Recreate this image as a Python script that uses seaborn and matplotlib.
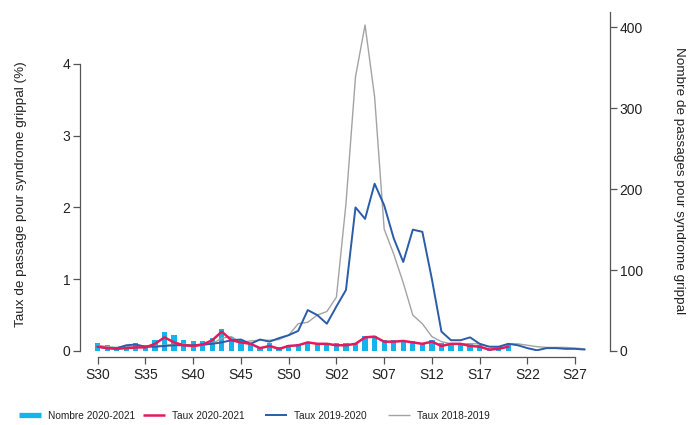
import matplotlib
matplotlib.use("Agg")
import matplotlib.pyplot as plt
from matplotlib.lines import Line2D
import seaborn as sns
import pandas as pd
import numpy as np

# ---- data -------------------------------------------------------------
weeks = [f"S{w:02d}" for w in range(30, 54)] + [f"S{w:02d}" for w in range(1, 30)]
tick_labels = ["S30", "S35", "S40", "S45", "S50", "S02", "S07", "S12", "S17", "S22", "S27"]

nombre_2020_2021 = [10, 7, 5, 7, 10, 7, 14, 24, 20, 13, 12, 12, 16, 27, 17, 14, 10, 5, 10, 5, 7, 9, 10, 10,
                    10, 10, 10, 10, 19, 19, 14, 14, 14, 12, 10, 13, 10, 10, 10, 10, 7, 3, 5, 9]

taux_2020_2021 = [0.06, 0.04, 0.03, 0.04, 0.05, 0.05, 0.10, 0.19, 0.12, 0.08, 0.07, 0.09, 0.15, 0.27, 0.15,
                  0.12, 0.10, 0.04, 0.07, 0.03, 0.07, 0.08, 0.12, 0.10,
                  0.10, 0.08, 0.08, 0.10, 0.19, 0.20, 0.13, 0.13, 0.14, 0.12, 0.10, 0.13, 0.07, 0.10,
                  0.10, 0.07, 0.06, 0.02, 0.03, 0.06]

taux_2019_2020 = [0.06, 0.04, 0.04, 0.08, 0.09, 0.06, 0.06, 0.07, 0.08, 0.08, 0.08, 0.09, 0.10, 0.12, 0.15,
                  0.16, 0.10, 0.16, 0.13, 0.18, 0.22, 0.28, 0.57, 0.50,
                  0.38, 0.62, 0.85, 2.00, 1.84, 2.33, 2.03, 1.57, 1.24, 1.69, 1.66, 1.00, 0.27, 0.15,
                  0.15, 0.19, 0.10, 0.06, 0.06, 0.10, 0.08, 0.04, 0.01, 0.04, 0.04, 0.03, 0.03, 0.02]

taux_2018_2019 = [0.08, 0.06, 0.05, 0.06, 0.05, 0.06, 0.07, 0.08, 0.09, 0.10, 0.06, 0.08, 0.10, 0.18, 0.20,
                  0.12, 0.14, 0.15, 0.15, 0.16, 0.22, 0.38, 0.40, 0.50,
                  0.55, 0.75, 2.05, 3.82, 4.54, 3.54, 1.70, 1.35, 0.95, 0.50, 0.38, 0.20, 0.13, 0.10,
                  0.10, 0.10, 0.10, 0.06, 0.05, 0.10, 0.10, 0.08, 0.06, 0.05, 0.05, 0.05, 0.04, 0.03]

# ---- style ------------------------------------------------------------
sns.set_theme(style="white")
plt.rcParams["font.family"] = ["Liberation Sans", "DejaVu Sans"]

C_BAR = "#12B4EC"
C_PINK = "#E5195E"
C_BLUE = "#2A5CA8"
C_GRAY = "#A3A3A3"
C_AX = "#555555"
C_TXT = "#222222"

W, H = 695, 425
fig = plt.figure(figsize=(W / 100, H / 100), dpi=100)
ax = fig.add_axes([80 / W, (H - 351) / H, 530 / W, 339 / H])
ax2 = ax.twinx()

df_bar = pd.DataFrame({"idx": np.arange(len(nombre_2020_2021)), "n": nombre_2020_2021})
sns.barplot(data=df_bar, x="idx", y="n", native_scale=True, color=C_BAR, saturation=1,
            width=0.55, ax=ax2, linewidth=0)

def line(vals, color, lw):
    d = pd.DataFrame({"idx": np.arange(len(vals)), "v": vals})
    sns.lineplot(data=d, x="idx", y="v", color=color, lw=lw, ax=ax)

line(taux_2018_2019, C_GRAY, 1.0)
line(taux_2019_2020, C_BLUE, 1.4)
line(taux_2020_2021, C_PINK, 1.8)

ax.set_zorder(ax2.get_zorder() + 1)
ax.patch.set_visible(False)

xmin, xmax = -1.85, 53.65
ax.set_xlim(xmin, xmax)
ax2.set_xlim(xmin, xmax)
ax.set_ylim(0, 339 / 71.8)
ax2.set_ylim(0, 339 / 0.81)

ax.set_xticks([weeks.index(t) for t in tick_labels])
ax.set_xticklabels(tick_labels)
ax.set_yticks([0, 1, 2, 3, 4])
ax.set_yticklabels(["0", "1", "2", "3", "4"])
ax2.set_yticks([0, 100, 200, 300, 400])

for s in ["top", "right"]:
    ax.spines[s].set_visible(False)
for s in ["top", "left", "bottom"]:
    ax2.spines[s].set_visible(False)
ax.spines["left"].set_bounds(0, 4)
ax.spines["bottom"].set_bounds(0, 50)
ax.spines["bottom"].set_position(("outward", 4))
for sp in [ax.spines["left"], ax.spines["bottom"], ax2.spines["right"]]:
    sp.set_color(C_AX)
    sp.set_linewidth(0.9)

ax.tick_params(axis="both", which="both", direction="out", length=5, width=0.9, color=C_AX,
               labelsize=10, labelcolor=C_TXT, left=True, bottom=True, pad=2)
ax.tick_params(axis="x", pad=3)
ax2.tick_params(axis="y", direction="out", length=5, width=0.9, color=C_AX,
                labelsize=10, labelcolor=C_TXT, right=True, pad=2)
ax2.tick_params(axis="x", bottom=False, labelbottom=False)

ax.set_xlabel("")
ax2.set_xlabel("")
ax.set_ylabel("Taux de passage pour syndrome grippal (%)", fontsize=9.7, color=C_TXT)
ax2.set_ylabel("Nombre de passages pour syndrome grippal", fontsize=9.7, color=C_TXT,
               rotation=270)
ax.yaxis.set_label_coords((27 - 80) / 530, 0.463)
ax2.yaxis.set_label_coords((685 - 80) / 530, 0.504)

# ---- legend -----------------------------------------------------------
entries = [("Nombre 2020-2021", C_BAR, 3.8, 19),
           ("Taux 2020-2021", C_PINK, 1.8, 143),
           ("Taux 2019-2020", C_BLUE, 1.4, 265),
           ("Taux 2018-2019", C_GRAY, 1.0, 388)]
for lab, col, lw, xpx in entries:
    h = Line2D([], [], color=col, lw=lw, solid_capstyle="butt")
    fig.legend([h], [lab], loc="center left", bbox_to_anchor=(xpx / W, (H - 416) / H),
               frameon=False, fontsize=7.3, handlelength=2.2, handletextpad=0.7,
               borderpad=0, borderaxespad=0, labelcolor=C_TXT)

fig.savefig("out.png", dpi=100)
